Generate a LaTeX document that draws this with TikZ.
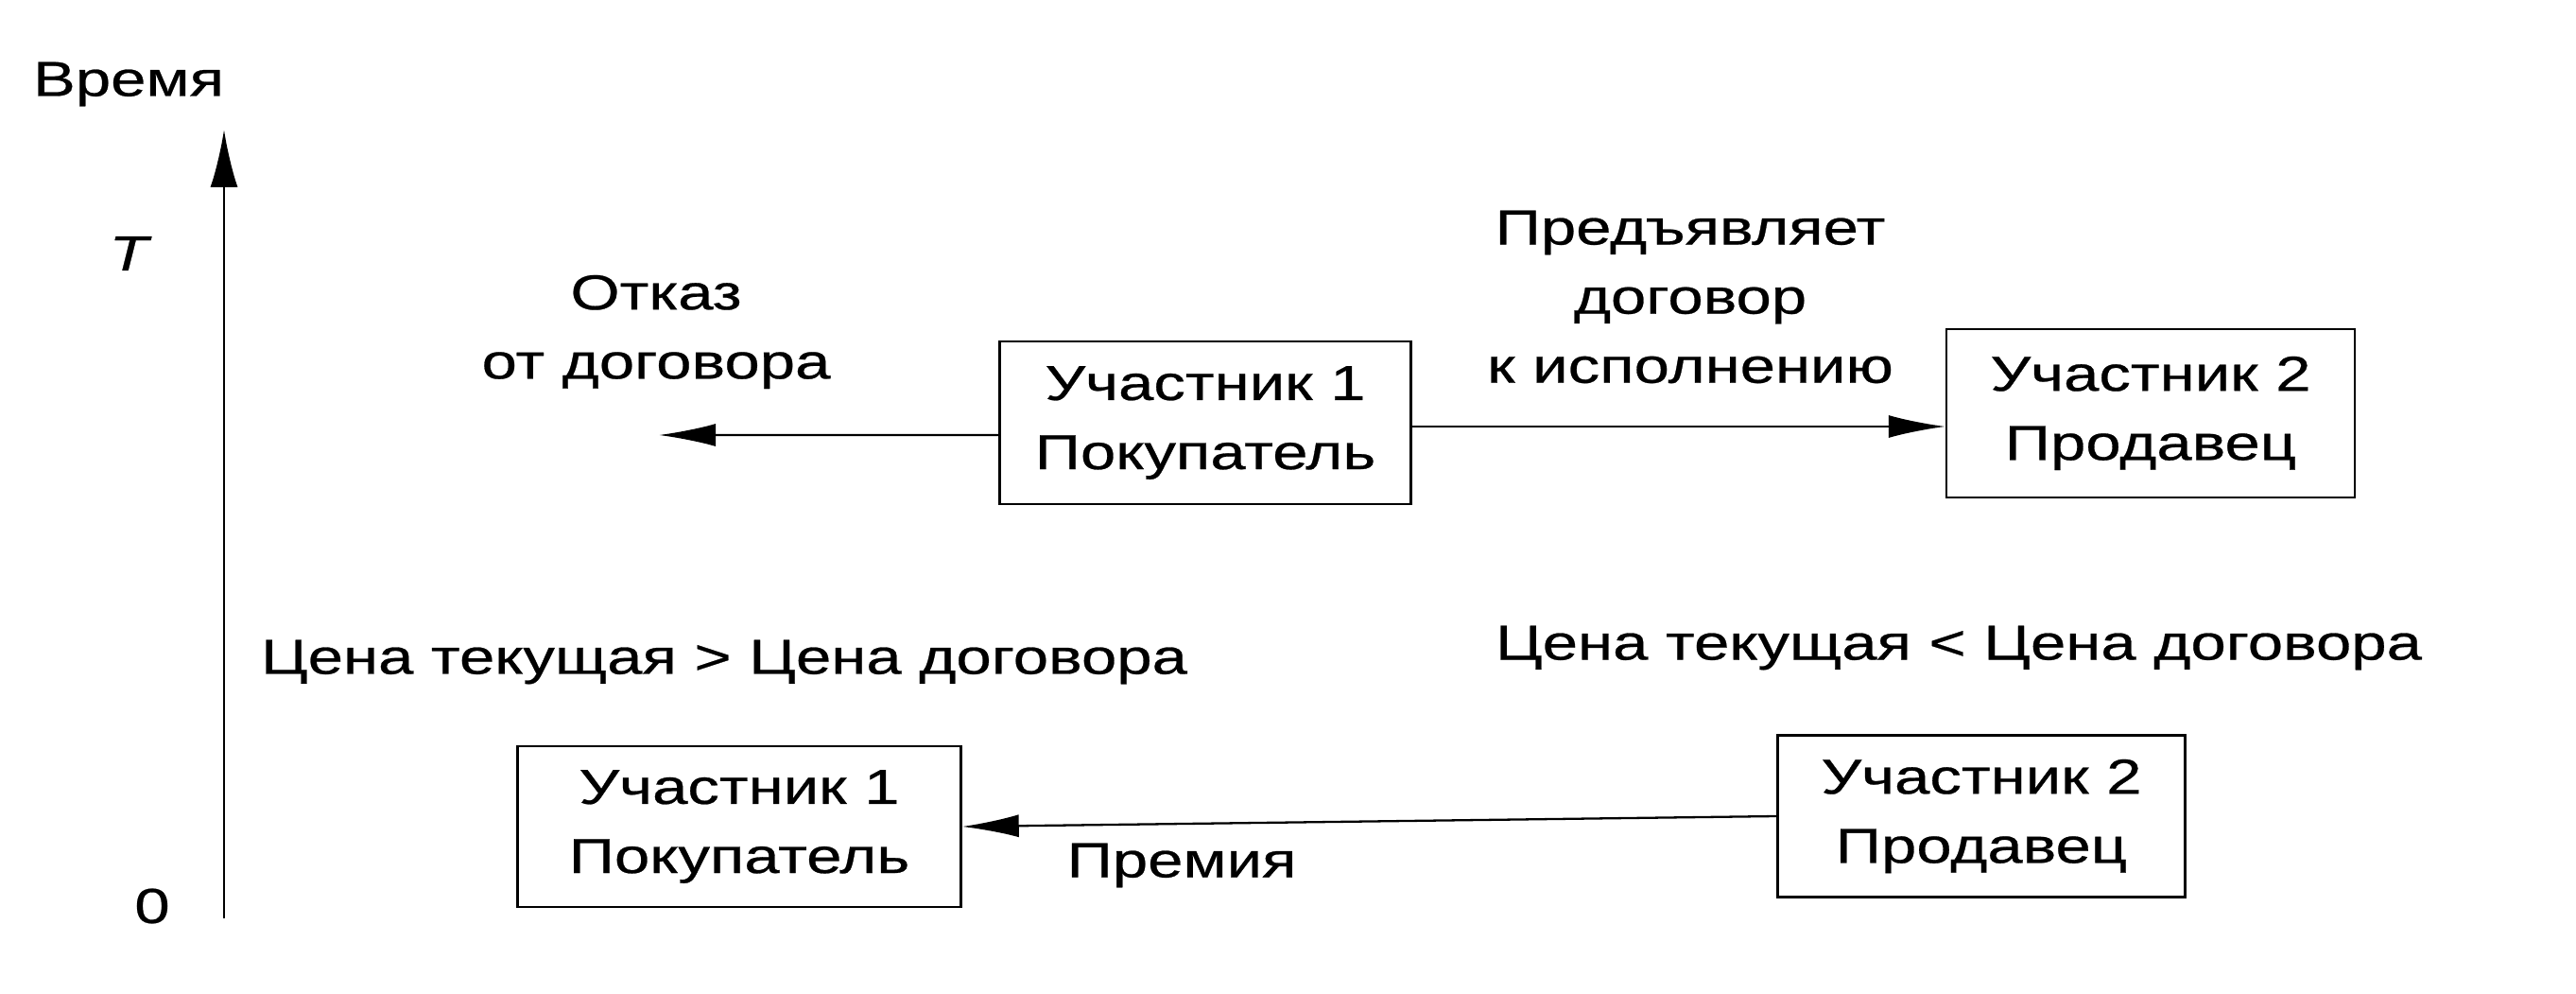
\documentclass[tikz,border=0pt]{standalone}
\usepackage{fontspec}
\setmainfont{Liberation Sans}[FakeStretch=1.29,FakeBold=0.5]
\usetikzlibrary{arrows.meta}
\begin{document}
\begin{tikzpicture}[
  font=\fontsize{14.8pt}{20.8pt}\selectfont,
  box/.style={draw, line width=0.7pt, align=center, inner sep=0pt, minimum width=4.35cm, minimum height=1.72cm},
  lbl/.style={align=center, inner sep=0pt},
  arr/.style={line width=0.65pt, -{Latex[length=0.6cm,width=0.24cm]}},
  axisarr/.style={line width=0.8pt, -{Latex[length=0.61cm,width=0.29cm]}}
]
\useasboundingbox (0,0) rectangle (27.25,10.5);
% time axis
\coordinate (axbot) at (2.37,0.79);
\coordinate (axtop) at (2.37,9.13);
\draw[axisarr] (axbot) -- (axtop);
\node[lbl] (vremya) at (1.36,9.61) {Время};
\node[lbl] (tT) at (1.38,7.82) {\textit{T}};
\node[lbl] (zero) at (1.61,0.92) {0};
% top row
\node[box] (b1) at (12.75,6.03) {Участник 1\\Покупатель};
\node[box, minimum width=4.32cm, minimum height=1.78cm] (b2) at (22.75,6.13) {Участник 2\\Продавец};
\coordinate (refuse) at (6.97,5.90);
\draw[arr] ([yshift=-0.13cm]b1.west) -- (refuse);
\draw[arr] ([yshift=-0.04cm]b1.east) -- ([yshift=-0.04cm]b1.east -| b2.west);
\node[lbl] (otkaz) at (6.94,6.99) {Отказ\\от договора};
\node[lbl] (predj) at (17.88,7.36) {Предъявляет\\договор\\к исполнению};
% conditions
\node[lbl] (cond1) at (7.66,3.50) {Цена текущая > Цена договора};
\node[lbl] (cond2) at (20.72,3.65) {Цена текущая < Цена договора};
% bottom row
\node[box, minimum width=4.69cm, minimum height=1.70cm] (b3) at (7.82,1.76) {Участник 1\\Покупатель};
\node[box, minimum width=4.31cm, minimum height=1.71cm] (b4) at (20.96,1.87) {Участник 2\\Продавец};
\draw[arr] (b4.west) -- (b3.east);
\node[lbl] (prem) at (12.50,1.35) {Премия};
\end{tikzpicture}
\end{document}
